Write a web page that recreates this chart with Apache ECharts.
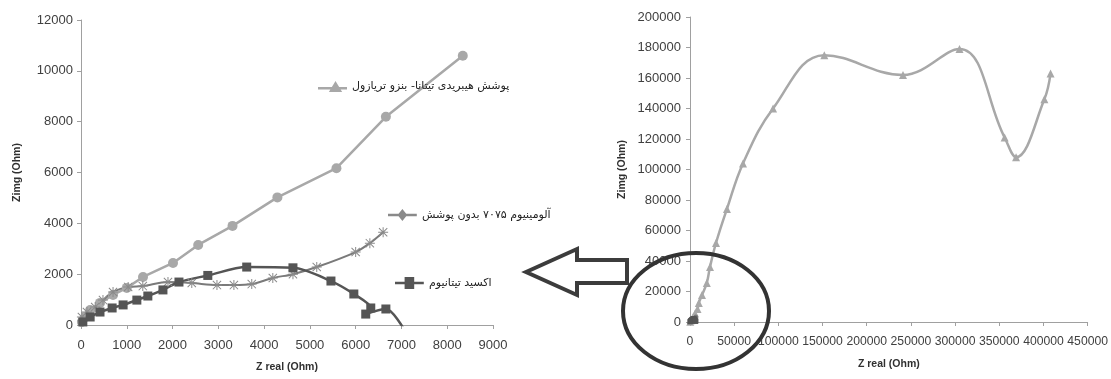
<!DOCTYPE html>
<html>
<head>
<meta charset="utf-8">
<script src="https://cdn.jsdelivr.net/npm/echarts@6/dist/echarts.min.js"></script>
<style>
html, body { margin: 0; padding: 0; background: #fff; }
#chart { width: 1111px; height: 379px; }
</style>
</head>
<body>
<div id="chart"></div>
<script>
// series names (legend texts)
var nameHybrid = 'پوشش هیبریدی تیتانا- بنزو تریازول';
var nameBare = 'آلومینیوم ۷۰۷۵ بدون پوشش';
var nameTiO2 = 'اکسید تیتانیوم';

// left chart: [Z real, Zimg] in Ohm
var hybridLeft = [[20,120],[90,310],[200,590],[415,870],[700,1180],[1000,1460],[1355,1890],[2010,2440],[2560,3150],[3310,3900],[4290,5020],[5580,6170],[6660,8190],[8340,10590]];
var bareAl = [[20,315],[130,510],[310,710],[480,980],[700,1300],[1030,1500],[1350,1530],[1900,1690],[2420,1650],[2970,1570],[3340,1570],[3730,1610],[4190,1850],[4630,2000],[5150,2280],[6000,2870],[6310,3220],[6600,3650]];
var tio2 = [[40,120],[200,315],[415,510],[680,670],[920,790],[1220,980],[1460,1140],[1790,1380],[2140,1690],[2770,1950],[3620,2280],[4630,2250],[5460,1730],[5960,1220],[6330,670],[6220,430],[6660,630],[7050,-150]];

// right chart: hybrid coating, full range
var hybridRight = [[300,200],[1500,1200],[3500,3300],[5700,5500],[8500,8500],[10000,12500],[13600,17700],[19000,25600],[22600,36000],[29400,51800],[41800,74100],[60000,104000],[94000,140000],[152000,175000],[241000,162000],[305000,179000],[356000,121000],[369000,108000],[401000,146000],[408000,163000]];

// axis ticks
var leftX = { min: 0, max: 9000, step: 1000 };
var leftY = { min: 0, max: 12000, step: 2000 };
var rightX = { min: 0, max: 450000, step: 50000 };
var rightY = { min: 0, max: 200000, step: 20000 };

var labelFont = { fontFamily: 'Liberation Sans', fontSize: 13, color: '#404040' };
var nameFont = { fontFamily: 'Liberation Sans', fontSize: 10.5, fontWeight: 'bold', color: '#303030' };
var axisLine = { lineStyle: { color: '#a0a0a0', width: 1 } };
var axisTick = { length: 4, lineStyle: { color: '#a0a0a0' } };

function plain(v) { return String(v); }

function valueAxis(r, idx, extra, margin, fontSize) {
    var a = {
        type: 'value',
        gridIndex: idx,
        min: r.min,
        max: r.max,
        interval: r.step,
        splitLine: { show: false },
        axisLine: axisLine,
        axisTick: axisTick,
        axisLabel: Object.assign({
            margin: margin, formatter: plain, interval: 0,
            showMinLabel: true, showMaxLabel: true, hideOverlap: false
        }, labelFont, fontSize ? { fontSize: fontSize } : {}),
        nameLocation: 'middle',
        nameTextStyle: nameFont
    };
    return Object.assign(a, extra);
}

var lineIcon = 'path://M0,9L24,9L24,11L0,11Z';
var legendText = { fontFamily: 'DejaVu Sans', fontSize: 11, color: '#222' };

var option = {
    animation: false,
    backgroundColor: '#fff',
    grid: [
        { left: 81, top: 20, width: 412, height: 305 },
        { left: 690, top: 17, width: 398, height: 305 }
    ],
    xAxis: [
        valueAxis(leftX, 0, { name: 'Z real (Ohm)', nameGap: 37 }, 14),
        valueAxis(rightX, 1, { name: 'Z real (Ohm)', nameGap: 37 }, 14, 12.2)
    ],
    yAxis: [
        valueAxis(leftY, 0, { name: 'Zimg (Ohm)', nameGap: 58 }, 8),
        valueAxis(rightY, 1, { name: 'Zimg (Ohm)', nameGap: 62 }, 9)
    ],
    legend: [
        {
            left: 313, top: 76, itemWidth: 29, itemHeight: 12, itemGap: 4,
            data: [{ name: nameHybrid, icon: lineIcon + 'M14.5,4L20,13L9,13Z' }],
            textStyle: legendText
        },
        {
            left: 383, top: 204, itemWidth: 29, itemHeight: 12, itemGap: 4,
            data: [{ name: nameBare, icon: lineIcon + 'M12,5L16,10L12,15L8,10Z' }],
            textStyle: legendText
        },
        {
            left: 390, top: 272, itemWidth: 29, itemHeight: 12, itemGap: 4,
            data: [{ name: nameTiO2, icon: lineIcon + 'M8,5L16,5L16,15L8,15Z' }],
            textStyle: legendText
        }
    ],
    series: [
        {
            name: nameHybrid, type: 'line', xAxisIndex: 0, yAxisIndex: 0,
            data: hybridLeft, symbol: 'circle', symbolSize: 10,
            itemStyle: { color: '#a8a8a8' }, lineStyle: { color: '#a8a8a8', width: 2.5 }
        },
        {
            name: nameBare, type: 'line', xAxisIndex: 0, yAxisIndex: 0,
            data: bareAl, smooth: 0.3,
            symbol: 'path://M4.5,0L5.5,0L5.5,10L4.5,10Z M0,4.5L10,4.5L10,5.5L0,5.5Z M1.2,0.5L9.5,8.8L8.8,9.5L0.5,1.2Z M8.8,0.5L9.5,1.2L1.2,9.5L0.5,8.8Z',
            symbolSize: 10,
            itemStyle: { color: '#8a8a8a' }, lineStyle: { color: '#7a7a7a', width: 2 }
        },
        {
            name: nameTiO2, type: 'line', xAxisIndex: 0, yAxisIndex: 0,
            data: tio2, smooth: 0.3, symbol: 'rect', symbolSize: 9,
            itemStyle: { color: '#555' }, lineStyle: { color: '#555', width: 2.5 }
        },
        {
            name: nameHybrid, type: 'line', xAxisIndex: 1, yAxisIndex: 1,
            data: hybridRight, smooth: 0.4, symbol: 'triangle', symbolSize: 8,
            itemStyle: { color: '#a8a8a8' }, lineStyle: { color: '#a8a8a8', width: 2.5 }
        },
        {
            name: nameBare, type: 'line', xAxisIndex: 1, yAxisIndex: 1,
            data: bareAl, smooth: 0.3, symbol: 'circle', symbolSize: 4,
            itemStyle: { color: '#777' }, lineStyle: { color: '#777', width: 2 }
        },
        {
            name: nameTiO2, type: 'line', xAxisIndex: 1, yAxisIndex: 1,
            data: tio2, smooth: 0.3, symbol: 'rect', symbolSize: 5,
            itemStyle: { color: '#555' }, lineStyle: { color: '#555', width: 2 }
        }
    ],
    graphic: [
        {
            type: 'polygon', z: 100,
            shape: { points: [[526,272],[577,249],[577,260],[627,260],[627,283],[577,283],[577,295]] },
            style: { fill: 'none', stroke: '#3c3c3c', lineWidth: 4, lineJoin: 'miter' }
        },
        {
            type: 'ellipse', z: 100,
            shape: { cx: 696, cy: 311, rx: 73, ry: 58 },
            style: { fill: 'none', stroke: '#333', lineWidth: 4 }
        }
    ]
};

var myChart = echarts.init(document.getElementById('chart'));
myChart.setOption(option);
</script>
</body>
</html>
